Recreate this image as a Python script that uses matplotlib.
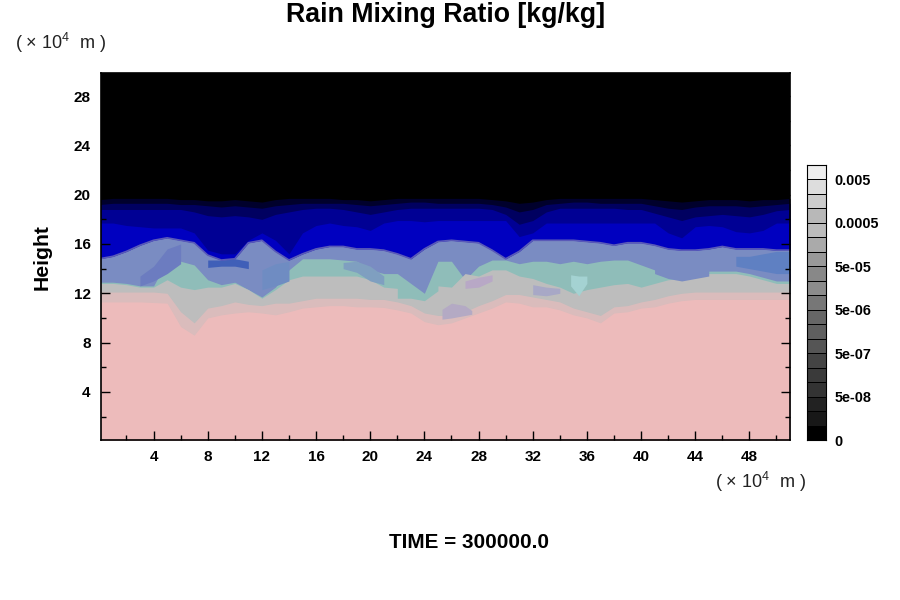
import numpy as np
import matplotlib
matplotlib.use("Agg")
import matplotlib.pyplot as plt

plt.rcParams['font.family'] = ['Liberation Sans', 'DejaVu Sans']
plt.rcParams['mathtext.default'] = 'regular'

x_pos = list(range(52))

pink_top = [11.3,11.3,11.3,11.3,11.25,11.2,9.3,8.6,10.0,10.25,
            10.4,10.5,10.4,10.25,10.5,10.8,10.9,11.0,11.0,10.9,
            10.9,10.85,10.65,10.4,9.7,9.45,9.6,10.0,10.4,10.8,
            11.3,11.2,10.9,10.9,10.65,10.25,10.0,9.6,10.4,10.5,
            10.8,10.9,11.2,11.4,11.5,11.5,11.5,11.5,11.5,11.5,11.5,11.5]
pale_top = [12.1,12.1,12.1,12.1,12.1,12.0,10.5,9.6,10.8,11.0,
            11.3,11.1,11.0,11.2,11.2,11.4,11.6,11.6,11.6,11.6,
            11.5,11.5,11.3,11.0,10.4,10.2,10.2,10.5,11.0,11.4,
            11.9,11.9,11.7,11.5,11.3,10.8,10.5,10.2,10.9,11.0,
            11.3,11.5,11.8,12.0,12.1,12.1,12.1,12.1,12.1,12.1,12.1,12.1]
grey_top = [12.8,12.8,12.7,12.5,12.5,13.1,12.5,12.3,12.5,12.5,
            12.8,12.3,11.6,12.3,13.1,13.4,13.4,13.4,13.4,13.4,
            13.1,12.5,12.4,11.8,11.6,12.6,12.5,13.6,13.4,13.9,
            13.9,13.4,13.2,12.8,12.5,12.0,12.3,12.5,12.7,12.8,
            12.5,12.8,13.1,13.2,13.4,13.6,13.6,13.6,13.4,13.1,12.8,12.8]
teal_top = [12.9,12.9,12.8,12.6,12.6,14.6,14.6,14.3,13.1,12.7,
            12.9,12.3,11.7,12.5,13.9,14.8,14.8,14.8,14.7,14.6,
            13.9,13.6,13.6,12.8,12.0,14.6,14.6,13.1,14.2,14.7,
            14.7,14.4,14.6,14.6,14.4,14.6,14.4,14.6,14.7,14.7,
            14.3,13.9,13.6,13.4,13.6,13.8,13.8,13.8,13.6,13.3,13.0,13.0]
slate_top = [14.8,15.0,15.4,15.9,16.3,16.5,16.3,16.1,15.1,14.7,
             14.8,16.1,16.3,15.4,14.7,15.2,15.6,15.8,15.8,15.6,
             15.6,15.5,15.2,14.8,15.6,16.2,16.3,16.2,16.1,15.5,
             14.8,15.4,16.3,16.3,16.3,16.3,16.2,16.1,15.9,16.1,
             16.1,15.9,15.6,15.5,15.5,15.6,15.8,15.6,15.6,15.6,15.5,15.5]
blue_top = [17.7,17.7,17.5,17.4,17.3,17.3,17.3,16.9,15.5,15.2,
            15.2,16.3,16.9,16.3,15.2,16.9,17.5,17.7,17.5,17.4,
            17.1,17.7,17.9,17.9,17.8,17.9,17.9,17.9,17.9,17.9,
            17.9,16.6,16.9,17.7,17.7,17.7,17.7,17.7,17.7,17.7,
            17.7,17.7,16.9,16.5,17.4,17.5,17.4,17.0,16.9,17.1,17.7,17.7]
navy_top = [18.8,18.8,18.8,18.8,18.8,18.8,18.8,18.6,18.3,18.2,
            18.3,18.2,18.0,18.4,18.6,18.8,18.9,18.9,18.8,18.6,
            18.4,18.6,18.8,18.9,18.9,18.9,18.9,18.9,18.9,18.8,
            18.4,17.6,17.9,18.6,18.9,18.9,18.9,18.9,18.9,18.8,
            18.8,18.5,18.2,17.9,18.2,18.3,18.4,18.3,18.2,18.4,18.7,18.8]
deep_top = [19.2,19.3,19.3,19.3,19.3,19.3,19.2,19.2,19.1,19.0,
            19.1,19.0,18.9,19.1,19.2,19.3,19.3,19.3,19.3,19.2,
            19.1,19.2,19.3,19.4,19.4,19.3,19.3,19.3,19.3,19.2,
            19.0,18.6,18.8,19.2,19.3,19.4,19.4,19.3,19.3,19.3,
            19.3,19.1,18.9,18.8,19.0,19.1,19.1,19.1,19.0,19.1,19.2,19.3]
night_top = [19.6,19.7,19.7,19.7,19.7,19.7,19.6,19.6,19.5,19.5,
             19.6,19.5,19.4,19.6,19.7,19.7,19.7,19.7,19.6,19.6,
             19.5,19.6,19.7,19.7,19.7,19.7,19.7,19.7,19.7,19.6,
             19.5,19.3,19.4,19.6,19.7,19.7,19.7,19.7,19.7,19.7,
             19.7,19.6,19.5,19.4,19.5,19.6,19.6,19.6,19.5,19.6,19.6,19.7]

wisp1_x = [8, 9, 10, 11]
wisp1_low = [14.1, 14.2, 14.2, 14.0]
wisp1_high = [14.7, 14.7, 14.8, 14.6]
wisp2_x = [12, 13, 14]
wisp2_low = [12.3, 12.6, 13.0]
wisp2_high = [13.9, 14.4, 14.6]
wisp3_x = [34.8, 35.4, 36]
wisp3_low = [12.6, 11.8, 12.8]
wisp3_high = [13.5, 13.4, 13.4]
wisp4_x = [27, 28, 29]
wisp4_low = [12.4, 12.5, 13.0]
wisp4_high = [13.0, 13.3, 13.5]
wisp5_x = [25.3, 26, 27, 27.5]
wisp5_low = [9.9, 10.0, 10.2, 10.3]
wisp5_high = [10.7, 11.2, 11.0, 10.6]
wisp6_x = [32, 33, 34]
wisp6_low = [11.9, 11.8, 12.0]
wisp6_high = [12.7, 12.5, 12.4]
wisp7_x = [22, 23, 24, 25]
wisp7_low = [11.6, 11.6, 11.4, 12.2]
wisp7_high = [12.4, 12.2, 11.9, 13.2]
wisp8_x = [3, 4, 5, 6]
wisp8_low = [12.6, 13.0, 13.6, 14.4]
wisp8_high = [13.4, 14.2, 15.6, 16.0]
wisp9_x = [18, 19, 20, 21]
wisp9_low = [14.0, 13.7, 13.0, 12.7]
wisp9_high = [14.5, 14.6, 14.2, 13.4]
wisp10_x = [41, 42, 43, 44, 45]
wisp10_low = [13.6, 13.2, 13.0, 13.2, 13.4]
wisp10_high = [14.8, 14.8, 14.4, 14.2, 14.2]
wisp11_x = [47, 48, 49, 50, 51]
wisp11_low = [14.2, 14.0, 13.8, 13.6, 13.6]
wisp11_high = [15.0, 15.0, 15.2, 15.4, 15.4]

x_ticks = [4, 8, 12, 16, 20, 24, 28, 32, 36, 40, 44, 48]
y_ticks = [4, 8, 12, 16, 20, 24, 28]
cbar_greys = ['#000000', '#181818', '#222222', '#333333', '#3a3a3a', '#444444', '#555555',
              '#5f5f5f', '#666666', '#777777', '#8c8c8c', '#888888', '#999999', '#aaaaaa',
              '#bcbcbc', '#b8b8b8', '#cccccc', '#dddddd', '#eeeeee']
cbar_ticks = [0, 3, 6, 9, 12, 15, 18]
cbar_labels = ['0', '5e-08', '5e-07', '5e-06', '5e-05', '0.0005', '0.005']

W, H = 900, 600
fig = plt.figure(figsize=(9, 6), dpi=100, facecolor='white')
ax = fig.add_axes([101/W, 1-440/H, 689/W, 367/H], facecolor='black')

layers = [(night_top, '#00002c'), (deep_top, '#000060'), (navy_top, '#000094'),
          (blue_top, '#0000c0'), (slate_top, '#7a8cc2'), (teal_top, '#8fbdb9'),
          (grey_top, '#bdbdbd'), (pale_top, '#dabcbc'), (pink_top, '#edbbbb')]
for top, col in layers:
    ax.fill_between(x_pos, 0, top, color=col, linewidth=0)
    if col == '#7a8cc2':
        ax.plot(x_pos, top, color='#5a5ab8', lw=1.2, solid_joinstyle='round')

wisps = [(wisp1_x, wisp1_low, wisp1_high, '#3f5fb8'), (wisp2_x, wisp2_low, wisp2_high, '#6f8cc2'),
         (wisp3_x, wisp3_low, wisp3_high, '#a4d2d2'), (wisp4_x, wisp4_low, wisp4_high, '#b8a8c6'),
         (wisp5_x, wisp5_low, wisp5_high, '#b4aac4'), (wisp6_x, wisp6_low, wisp6_high, '#a8a8c6'),
         (wisp7_x, wisp7_low, wisp7_high, '#8fbdb9'), (wisp8_x, wisp8_low, wisp8_high, '#6c7cc0'),
         (wisp9_x, wisp9_low, wisp9_high, '#7f9fc0'), (wisp10_x, wisp10_low, wisp10_high, '#7a8cc2'),
         (wisp11_x, wisp11_low, wisp11_high, '#5f80c2')]
for wx, lo, hi, col in wisps:
    ax.fill_between(wx, lo, hi, color=col, linewidth=0)

ax.set_xlim(0.12, 51.0)
ax.set_ylim(0.1, 29.87)
ax.set_xticks(x_ticks)
ax.set_yticks(y_ticks)
ax.set_xticks([v - 2 for v in x_ticks] + [50], minor=True)
ax.set_yticks([v - 2 for v in y_ticks], minor=True)
ax.tick_params(which='major', direction='in', length=6.5, width=1.0, top=True, right=True,
               labelsize=11)
ax.tick_params(which='minor', direction='in', length=3.5, width=1.0, top=True, right=True)
ax.tick_params(axis='x', which='major', pad=7)
ax.tick_params(axis='y', which='major', pad=7.5)
for lab in ax.get_xticklabels() + ax.get_yticklabels():
    lab.set_fontweight('bold')
for s in ax.spines.values():
    s.set_linewidth(1.2)

cax = fig.add_axes([807/W, 1-440/H, 19/W, 275/H])
cax.pcolormesh([0, 1], np.arange(len(cbar_greys) + 1),
               np.arange(len(cbar_greys)).reshape(-1, 1),
               cmap=matplotlib.colors.ListedColormap(cbar_greys),
               edgecolors='black', linewidth=0.6)
cax.set_xticks([])
cax.yaxis.tick_right()
cax.set_yticks(cbar_ticks)
cax.set_yticklabels(cbar_labels, fontweight='bold', fontsize=10.4)
cax.tick_params(axis='y', length=0, pad=6)
for s in cax.spines.values():
    s.set_linewidth(0.8)

fig.text(446/W, 1-15/H, 'Rain Mixing Ratio [kg/kg]', ha='center', va='center',
         fontsize=19.3, fontweight='bold')
fig.text(42/W, 1-257/H, 'Height', rotation=90, ha='center', va='center',
         fontsize=15.2, fontweight='bold')
fig.text(469/W, 1-543/H, 'TIME = 300000.0', ha='center', va='center',
         fontsize=14.9, fontweight='bold')
unit = '( × 10$^{4}$  m )'
fig.text(15/W, 1-43/H, unit, ha='left', va='center', fontsize=13, color='#222222')
fig.text(715/W, 1-482/H, unit, ha='left', va='center', fontsize=13, color='#222222')

fig.savefig('out.png', dpi=100)
